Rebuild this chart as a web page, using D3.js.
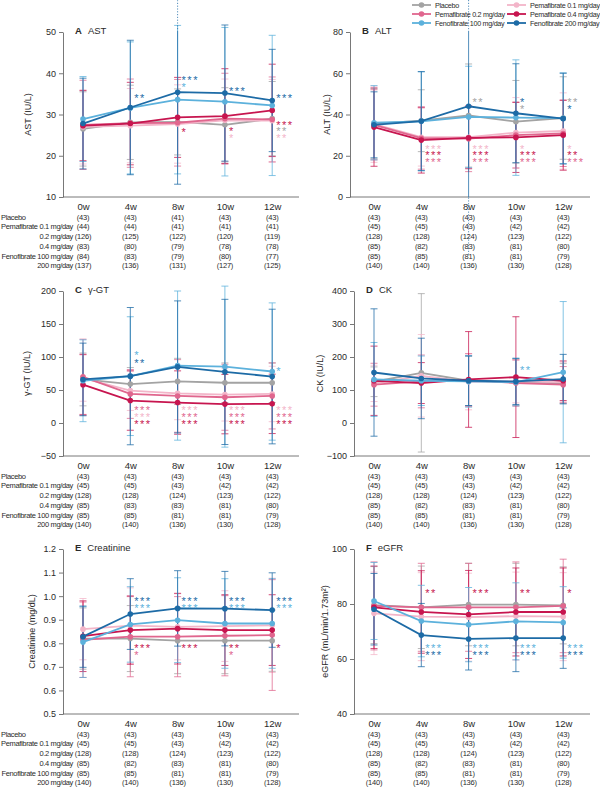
<!DOCTYPE html>
<html><head><meta charset="utf-8">
<script src="https://cdnjs.cloudflare.com/ajax/libs/d3/7.8.5/d3.min.js"></script>
<style>
body{margin:0;background:#fff;}
svg{font-family:"Liberation Sans",Arial,Helvetica,sans-serif;}
</style></head>
<body>
<script>
// ---------- DATA ----------
const weeks = ["0w","4w","8w","10w","12w"];
const groups = ["Placebo","Pemafibrate 0.1 mg/day","Pemafibrate 0.2 mg/day","Pemafibrate 0.4 mg/day","Fenofibrate 100 mg/day","Fenofibrate 200 mg/day"];
const rowLabels = ["Placebo","Pemafibrate 0.1 mg/day","0.2 mg/day","0.4 mg/day","Fenofibrate 100 mg/day","200 mg/day"];

// AST (IU/L): mean and SD, rows = groups, cols = weeks
const astMean = [
  [26.5,28.1,28.2,27.5,29.0],
  [27.0,27.3,27.7,28.6,28.5],
  [27.5,27.9,28.0,29.0,28.8],
  [27.3,27.8,29.3,29.6,31.0],
  [28.9,31.6,33.6,33.1,32.2],
  [27.8,31.7,35.4,35.2,33.4]];
const astSD = [
  [9,9,8,9,9],
  [9,9,9.5,10,10],
  [10.8,10.7,10.5,11,10.3],
  [8.5,10,9.7,11.5,11.2],
  [10.3,16,18,18,17],
  [11,16.3,22.3,16.5,12.4]];
const astN = [
  [43,43,41,43,43],[44,44,41,41,41],[126,125,122,120,119],
  [83,80,79,78,78],[84,83,79,80,77],[137,136,131,127,125]];
const astStars = [
  [5,1,"**",34.4],
  [5,2,"***",38.8],[4,2,"*",37.1],[3,2,"*",26.3],
  [5,3,"***",36.1],[3,3,"*",26.6],[1,3,"*",24.9],
  [5,4,"***",34.4],[3,4,"***",28.0],[0,4,"**",26.6],[1,4,"**",24.9]];

// ALT (IU/L)
const altMean = [
  [35.5,37.0,39.5,36.5,38.3],
  [35.3,29.0,29.0,31.2,32.0],
  [35.0,28.5,28.3,30.0,30.8],
  [33.9,27.6,28.7,28.9,30.0],
  [36.0,36.7,38.8,38.5,38.2],
  [35.0,36.8,44.0,40.6,38.0]];
const altSD = [
  [17,15,25,20,20],
  [18.5,14,15,17,18.5],
  [17,15,16,16,16],
  [19,16,15,17,17],
  [18,24,24.6,28,22],
  [16,24,72,24,22]];
const commonN = [
  [43,43,43,43,43],[45,45,43,42,42],[128,128,124,123,122],
  [85,82,83,81,80],[85,85,81,81,79],[140,140,136,130,128]];
const altStars = [
  [1,1,"***",24.4],[3,1,"***",21.5],[2,1,"***",18.0],
  [0,2,"**",46.8],[1,2,"***",24.4],[3,2,"***",21.5],[2,2,"***",18.0],
  [5,3,"*",46.8],[0,3,"*",43.4],[1,3,"*",24.4],[3,3,"***",21.5],[2,3,"***",18.0],
  [0,4,"**",46.8],[5,4,"*",43.4],[1,4,"*",24.4],[3,4,"**",21.5],[2,4,"***",18.0]];

// γ-GT (IU/L)
const ggtMean = [
  [66,59,63,61,61],
  [68,49,45,43,44],
  [70,44,41,39,41],
  [58,34,31,28.6,29],
  [64,71,87,85.4,78],
  [66,71,85,77.4,70.4]];
const ggtSD = [
  [40,25,35,30,30],
  [35,30,40,40,42],
  [57,37,55,50,50],
  [46,45,48,45,45],
  [62,90,113,122,104],
  [55,104,100,110,102]];
const ggtN = [
  [43,43,43,43,43],[45,45,43,42,42],[128,128,124,123,122],
  [85,83,83,81,80],[85,85,81,81,79],[140,140,136,130,128]];
const ggtStars = [
  [4,1,"*",106],[5,1,"**",94],[2,1,"***",22.7],[1,1,"***",12],[3,1,"***",1.5],
  [1,2,"***",22.7],[2,2,"***",12],[3,2,"***",1.5],
  [1,3,"***",22.7],[2,3,"***",12],[3,3,"***",1.5],
  [4,4,"*",82],[1,4,"***",22.7],[2,4,"***",12],[3,4,"***",1.5]];

// CK (IU/L)
const ckMean = [
  [125,152,128,123,120],
  [120,143,125,126,124],
  [116,126,130,121,116],
  [128,121,132,139,128],
  [132,128,126,124,154],
  [153,135,128,126,133]];
const ckSD = [
  [45,240,75,70,60],
  [55,125,85,65,60],
  [65,80,80,70,55],
  [105,62,145,183,60],
  [112,75,78,72,214],
  [193,122,75,70,75]];
const ckStars = [[4,3,"**",167]];

// Creatinine (mg/dL)
const creMean = [
  [0.820,0.820,0.811,0.811,0.811],
  [0.860,0.875,0.870,0.873,0.876],
  [0.815,0.828,0.828,0.832,0.835],
  [0.830,0.856,0.862,0.856,0.856],
  [0.805,0.880,0.898,0.884,0.884],
  [0.828,0.924,0.948,0.947,0.941]];
const creSD = [
  [0.13,0.14,0.14,0.14,0.13],
  [0.13,0.16,0.14,0.15,0.20],
  [0.16,0.17,0.17,0.17,0.235],
  [0.15,0.145,0.15,0.15,0.15],
  [0.15,0.16,0.18,0.19,0.19],
  [0.13,0.15,0.16,0.158,0.158]];
const creStars = [
  [5,1,"***",0.988],[4,1,"***",0.958],[3,1,"***",0.788],[2,1,"*",0.759],
  [5,2,"***",0.988],[4,2,"***",0.958],[3,2,"***",0.788],
  [5,3,"***",0.988],[4,3,"***",0.958],[3,3,"**",0.788],[2,3,"*",0.759],
  [5,4,"***",0.988],[4,4,"***",0.958],[3,4,"*",0.788]];

// eGFR (mL/min/1.73m2)
const egfrMean = [
  [79.6,78.8,79.8,79.8,79.5],
  [76.6,75.4,75.2,75.6,75.4],
  [79.3,78.8,78.8,78.8,79.3],
  [78.8,77.1,76.2,77.1,77.1],
  [81.1,73.8,72.5,73.7,73.3],
  [78.1,68.7,67.3,67.6,67.6]];
const egfrSD = [
  [14,15,15,15,14],
  [15,16,16,16,16],
  [16,16,16,16.5,17],
  [15,15,16,16,16],
  [14,13,13.5,14,13],
  [13,11.5,11.3,12.2,11]];
const egfrStars = [
  [3,1,"**",84.7],[4,1,"***",64.7],[5,1,"***",62.2],
  [3,2,"***",84.7],[4,2,"***",64.7],[5,2,"***",62.2],
  [3,3,"**",84.7],[4,3,"***",64.7],[5,3,"***",62.2],
  [3,4,"*",84.7],[4,4,"***",64.7],[5,4,"***",62.2]];

// ---------- STYLE / LAYOUT ----------
const colors = ["#a3a3a3","#f3b5c9","#e0668e","#c7154f","#5cb1dc","#1d6ba6"];
const textCol = "#2a2a2a";
const axisCol = "#555";
const plotH = 165;

const panels = [
  {letter:"A",title:"AST",ylab:"AST (IU/L)",mean:astMean,sd:astSD,n:astN,stars:astStars,domain:[10,50],ticks:[10,20,30,40,50],fmt:d3.format("d"),x0:63,xEnd:299,pad:20,top:32,ylx:28,rowLabels:true},
  {letter:"B",title:"ALT",ylab:"ALT (IU/L)",mean:altMean,sd:altSD,n:commonN,stars:altStars,domain:[0,80],ticks:[0,20,40,60,80],fmt:d3.format("d"),x0:350,xEnd:590,pad:24,top:32,ylx:327,rowLabels:false},
  {letter:"C",title:"γ-GT",ylab:"γ-GT (IU/L)",mean:ggtMean,sd:ggtSD,n:ggtN,stars:ggtStars,domain:[-50,200],ticks:[-50,0,50,100,150,200],fmt:d => d<0?"\u2212"+Math.abs(d):d,x0:63,xEnd:299,pad:20,top:291,ylx:27,rowLabels:true},
  {letter:"D",title:"CK",ylab:"CK (IU/L)",mean:ckMean,sd:ckSD,n:commonN,stars:ckStars,domain:[-100,400],ticks:[-100,0,100,200,300,400],fmt:d => d<0?"\u2212"+Math.abs(d):d,x0:354,xEnd:590,pad:20,top:291,ylx:320,rowLabels:false},
  {letter:"E",title:"Creatinine",ylab:"Creatinine (mg/dL)",mean:creMean,sd:creSD,n:commonN,stars:creStars,domain:[0.5,1.2],ticks:[0.5,0.6,0.7,0.8,0.9,1.0,1.1,1.2],fmt:d3.format(".1f"),x0:63,xEnd:299,pad:20,top:549,ylx:32,rowLabels:true},
  {letter:"F",title:"eGFR",ylab:"eGFR (mL/min/1.73m²)",mean:egfrMean,sd:egfrSD,n:commonN,stars:egfrStars,domain:[40,100],ticks:[40,60,80,100],fmt:d3.format("d"),x0:354,xEnd:590,pad:20,top:549,ylx:325,rowLabels:false}
];

const svg = d3.select("body").append("svg").attr("width",600).attr("height",788);

panels.forEach(p => {
  const bottom = p.top + plotH;
  const y = d3.scaleLinear().domain(p.domain).range([bottom, p.top]);
  const x = d3.scalePoint().domain(weeks).range([p.x0 + p.pad, p.x0 + p.pad + 4*47.3]);
  const g = svg.append("g");

  // y axis
  const ya = g.append("g").attr("transform",`translate(${p.x0},0)`)
    .call(d3.axisLeft(y).tickValues(p.ticks).tickFormat(p.fmt).tickSize(4).tickSizeOuter(0).tickPadding(3));
  ya.select(".domain").attr("stroke",axisCol).attr("stroke-width",0.8);
  ya.selectAll(".tick line").attr("stroke",axisCol).attr("stroke-width",0.8);
  ya.selectAll(".tick text").attr("fill",textCol).style("font-size","9px");

  // x axis
  const xa = g.append("g").attr("transform",`translate(0,${bottom})`)
    .call(d3.axisBottom(x).tickSize(0).tickPadding(6));
  xa.select(".domain").attr("d",`M${p.x0},0H${p.xEnd}`).attr("stroke",axisCol).attr("stroke-width",0.8);
  xa.selectAll(".tick text").attr("fill",textCol).style("font-size","9.5px");

  // y label
  g.append("text").attr("transform",`translate(${p.ylx},${p.top+plotH/2}) rotate(-90)`)
    .attr("text-anchor","middle").attr("dy","0.35em").attr("fill",textCol).style("font-size","9px").text(p.ylab);

  // title
  const t = g.append("text").attr("x",p.x0+12).attr("y",p.top+2).attr("fill",textCol).style("font-size","9.5px");
  t.append("tspan").attr("font-weight","bold").text(p.letter);
  t.append("tspan").attr("dx",6).text(p.title);

  const [d0,d1] = p.domain;
  const tol = 0.1*(d1-d0);  // bars beyond this margin are drawn truncated (dotted)
  // error bars
  p.mean.forEach((row,i) => {
    row.forEach((m,j) => {
      const s = p.sd[i][j];
      const lo = m - s, hi = m + s;
      const cx = x(weeks[j]);
      const eb = g.append("g").attr("stroke",colors[i]).attr("stroke-width",0.9).attr("stroke-opacity",0.85);
      const hiCut = hi > d1 + tol, loCut = lo < d0 - tol;
      const sTop = hiCut ? d1 : hi, sBot = loCut ? d0 : lo;
      eb.append("line").attr("x1",cx).attr("x2",cx).attr("y1",y(sBot)).attr("y2",y(sTop));
      if (hiCut) eb.append("line").attr("x1",cx).attr("x2",cx).attr("y1",y(d1)).attr("y2",y(hi)).attr("stroke-dasharray","1.2,1.6");
      if (loCut) eb.append("line").attr("x1",cx).attr("x2",cx).attr("y1",y(lo)).attr("y2",y(d0)).attr("stroke-dasharray","1.2,1.6");
      if (!hiCut) eb.append("line").attr("x1",cx-3.5).attr("x2",cx+3.5).attr("y1",y(hi)).attr("y2",y(hi));
      if (!loCut) eb.append("line").attr("x1",cx-3.5).attr("x2",cx+3.5).attr("y1",y(lo)).attr("y2",y(lo));
    });
  });

  // lines and points
  const line = d3.line().x((d,j) => x(weeks[j])).y(d => y(d));
  p.mean.forEach((row,i) => {
    g.append("path").datum(row).attr("d",line).attr("fill","none").attr("stroke",colors[i]).attr("stroke-width",1.8);
    g.selectAll(null).data(row).enter().append("circle")
      .attr("cx",(d,j) => x(weeks[j])).attr("cy",d => y(d)).attr("r",2.8).attr("fill",colors[i]);
  });

  // significance stars
  g.selectAll(null).data(p.stars).enter().append("text")
    .attr("x",d => x(weeks[d[1]]) + 4).attr("y",d => y(d[3]) + 6)
    .attr("fill",d => colors[d[0]]).style("font-size","11px").style("letter-spacing","1.5px")
    .text(d => d[2]);

  // N table
  const base = bottom + 22.5;
  p.n.forEach((row,i) => {
    const ty = base + i*9.75;
    if (p.rowLabels) {
      const isLeft = i === 0;
      g.append("text").attr("x",isLeft?1:73).attr("y",ty).attr("text-anchor",isLeft?"start":"end")
        .attr("fill",textCol).style("font-size","7.5px").style("letter-spacing","-0.35px").text(rowLabels[i]);
    }
    row.forEach((v,j) => {
      g.append("text").attr("x",x(weeks[j])).attr("y",ty).attr("text-anchor","middle")
        .attr("fill",textCol).style("font-size","7.5px").style("letter-spacing","-0.2px").text(`(${v})`);
    });
  });
});

// legend
const legendOrder = [[0,412,7.5],[2,412,16.5],[4,412,25.5],[1,507,7.5],[3,507,16.5],[5,507,25.5]];
const lg = svg.append("g");
legendOrder.forEach(([i,lx,ly]) => {
  lg.append("line").attr("x1",lx).attr("x2",lx+19).attr("y1",ly-2.5).attr("y2",ly-2.5).attr("stroke",colors[i]).attr("stroke-width",1.8);
  lg.append("circle").attr("cx",lx+9.5).attr("cy",ly-2.5).attr("r",2.8).attr("fill",colors[i]);
  lg.append("text").attr("x",lx+23).attr("y",ly).attr("fill",textCol).style("font-size","7.2px").style("letter-spacing","-0.3px").text(groups[i]);
});
</script>
</body></html>
